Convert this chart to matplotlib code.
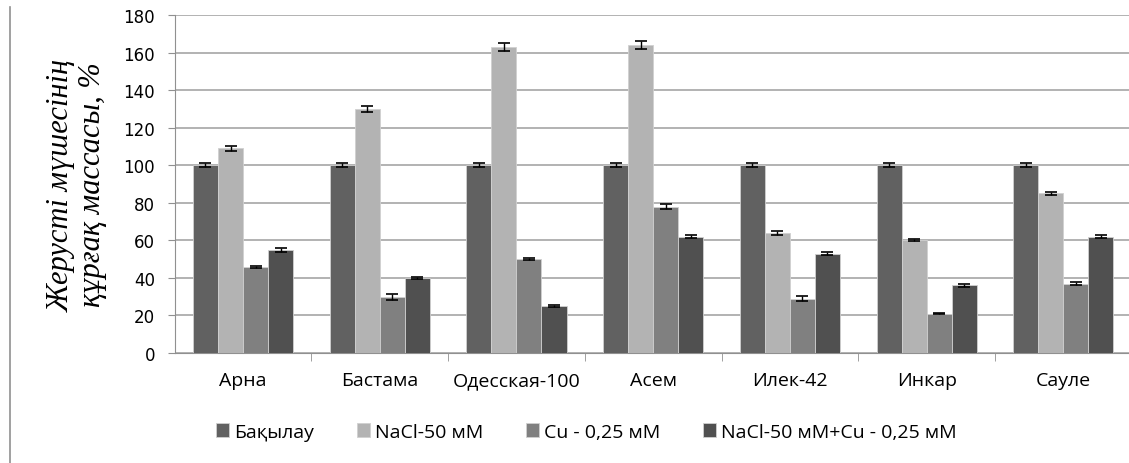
import matplotlib.pyplot as plt
import numpy as np
from matplotlib.lines import Line2D

# сорттар
categories = ["Арна", "Бастама", "Одесская-100", "Асем", "Илек-42", "Инкар", "Сауле"]
series_names = ["Бақылау", "NaCl-50 мМ", "Cu - 0,25 мМ", "NaCl-50 мМ+Cu - 0,25 мМ"]

control = [100, 100, 100, 100, 100, 100, 100]
nacl = [109, 130, 163, 164, 64, 60, 85]
cu = [46, 30, 50, 78, 29, 21, 37]
nacl_cu = [55, 40, 25, 62, 53, 36, 62]

err_control = [1, 1, 1, 1, 1, 1, 1]
err_nacl = [1.5, 1.5, 2, 2, 1.2, 0.6, 0.6]
err_cu = [0.6, 1.5, 0.6, 1.5, 1.5, 0.3, 0.8]
err_nacl_cu = [1, 0.6, 0.6, 0.6, 0.8, 0.8, 0.6]

colors = ["#616161", "#b3b3b3", "#808080", "#505050"]


def main():
    fig = plt.figure(figsize=(11.29, 4.64), dpi=100)
    ax = fig.add_axes([0.1547, 0.237, 1 - 0.1547, 0.7285])

    x = np.arange(len(categories))
    w = 0.183
    data = [control, nacl, cu, nacl_cu]
    errs = [err_control, err_nacl, err_cu, err_nacl_cu]
    for i in range(4):
        pos = x + (i - 1.5) * w
        ax.bar(pos, data[i], width=w, color=colors[i], edgecolor="#d0d0d0",
               linewidth=0.6, label=series_names[i], zorder=3)
        ax.errorbar(pos, data[i], yerr=errs[i], fmt="none", ecolor="black",
                    elinewidth=1, capsize=4, capthick=1.2, zorder=4)

    ax.set_ylim(0, 180)
    ax.set_yticks(np.arange(0, 181, 20))
    ax.set_xlim(-0.5, 6.48)
    ax.yaxis.grid(True, color="#a6a6a6", linewidth=1.2, zorder=0)
    ax.set_axisbelow(True)

    ax.set_xticks(x)
    ax.set_xticklabels(categories, fontfamily="Open Sans", fontsize=14)
    ax.set_xticks(np.arange(0.5, 6.5, 1), minor=True)
    ax.tick_params(axis="x", which="major", length=0, pad=13)
    ax.tick_params(axis="x", which="minor", length=6, color="#909090")
    ax.tick_params(axis="y", length=5, color="#909090", labelsize=12, pad=9)
    for lab in ax.get_yticklabels():
        lab.set_fontfamily("DejaVu Sans")

    for s in ["top", "right"]:
        ax.spines[s].set_visible(False)
    ax.spines["left"].set_color("#909090")
    ax.spines["bottom"].set_color("#909090")

    ax.set_ylabel("Жерусті мүшесінің\nқұрғақ массасы, %", fontfamily="Liberation Serif",
                  fontstyle="italic", fontsize=22, linespacing=1.1)
    ax.yaxis.set_label_coords(-0.071, 0.5)

    fig.legend(loc="center", bbox_to_anchor=(0.5195, 0.067), ncol=4, frameon=False,
               handlelength=0.67, handleheight=0.67, handletextpad=0.26, columnspacing=2.2,
               prop={"family": "Open Sans", "size": 14})

    # рамка сол жақта
    fig.add_artist(Line2D([10 / 1129, 10 / 1129], [0, 1 - 8 / 464], color="#909090", lw=1.2))

    fig.savefig("out.png", dpi=100)


if __name__ == "__main__":
    main()
